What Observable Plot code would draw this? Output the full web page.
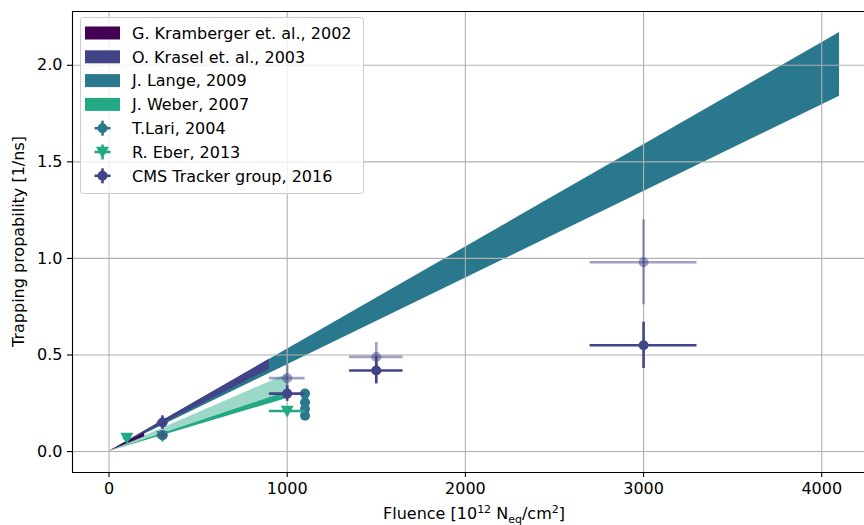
<!DOCTYPE html>
<html><head><meta charset="utf-8">
<script src="https://cdn.jsdelivr.net/npm/d3@7"></script>
<script src="https://cdn.jsdelivr.net/npm/@observablehq/plot@0.6"></script>
<style>body{margin:0;background:#fff}svg{display:block}</style>
</head><body><div id="chart"></div>
<script>
// ---- data ----
const xTicks = [0, 1000, 2000, 3000, 4000];
const yTicks = [0, 0.5, 1.0, 1.5, 2.0];
const xDomain = [-205, 4240];
const yDomain = [-0.1085, 2.2785];

// bands (fluence, lower, upper)
const langeX = [0, 4100], langeLo = [0, 1.84], langeHi = [0, 2.17];
const kraselX = [0, 900], kraselLo = [0, 0.425], kraselHi = [0, 0.478];
const krambX = [0, 200], krambLo = [0, 0.075], krambHi = [0, 0.097];
const weberX = [0, 1000], weberLo = [0, 0.275], weberHi = [0, 0.31];
const weberLightX = [0, 1000], weberLightLo = [0, 0.31], weberLightHi = [0, 0.40];

// point series
const lariX = [300, 1100, 1100, 1100, 1100];
const lariY = [0.085, 0.30, 0.255, 0.22, 0.185];
const lariXerr = [0, 0, 0, 0, 0];
const lariYerr = [0.012, 0.012, 0.012, 0.012, 0.012];

const eberX = [100, 300, 1000];
const eberY = [0.07, 0.08, 0.21];
const eberXerr = [20, 30, 100];
const eberYerr = [0.01, 0.015, 0.01];

const cmsX = [300, 1000, 1500, 3000];
const cmsY = [0.15, 0.30, 0.42, 0.55];
const cmsXerr = [30, 100, 150, 300];
const cmsYerr = [0.035, 0.04, 0.07, 0.12];

const cmsLightX = [300, 1000, 1500, 3000];
const cmsLightY = [0.085, 0.38, 0.49, 0.98];
const cmsLightXerr = [30, 100, 150, 300];
const cmsLightYerr = [0.02, 0.07, 0.075, 0.22];

const legendBands = [
  {label: "G. Kramberger et. al., 2002", color: "#440154"},
  {label: "O. Krasel et. al., 2003", color: "#414487"},
  {label: "J. Lange, 2009", color: "#2a788e"},
  {label: "J. Weber, 2007", color: "#22a884"}
];
const legendPoints = [
  {label: "T.Lari, 2004", color: "#2a788e", sym: "circle"},
  {label: "R. Eber, 2013", color: "#22a884", sym: "tri"},
  {label: "CMS Tracker group, 2016", color: "#414487", sym: "circle"}
];

// ---- helpers ----
const band = (xs, lo, hi) => xs.map((x, i) => ({x, lo: lo[i], hi: hi[i]}));
const pts = (xs, ys, xe, ye) => xs.map((x, i) => ({x, y: ys[i], xe: xe[i], ye: ye[i]}));
const triDown = {
  draw(ctx, size) {
    const s = Math.sqrt(size / Math.PI);
    ctx.moveTo(-s, -s * 0.8);
    ctx.lineTo(s, -s * 0.8);
    ctx.lineTo(0, s);
    ctx.closePath();
  }
};
function errMarks(data, color, opacity, symbol) {
  return [
    Plot.ruleY(data.filter(d => d.xe > 0), {y: "y", x1: d => d.x - d.xe, x2: d => d.x + d.xe, stroke: color, strokeWidth: 2.6, strokeOpacity: opacity}),
    Plot.ruleX(data.filter(d => d.ye > 0), {x: "x", y1: d => d.y - d.ye, y2: d => d.y + d.ye, stroke: color, strokeWidth: 2.6, strokeOpacity: opacity}),
    Plot.dot(data, {x: "x", y: "y", r: symbol === triDown ? 6.5 : 5, symbol, fill: color, fillOpacity: opacity, stroke: "none"})
  ];
}

const grid = "#b0b0b0";
const chart = Plot.plot({
  width: 864, height: 525,
  marginLeft: 72, marginRight: 0, marginTop: 11, marginBottom: 53,
  x: {domain: xDomain},
  y: {domain: yDomain},
  style: {fontFamily: "DejaVu Sans", fontSize: "16px", color: "#000", background: "#fff"},
  marks: [
    Plot.areaY(band(langeX, langeLo, langeHi), {x: "x", y1: "lo", y2: "hi", fill: "#2a788e"}),
    Plot.areaY(band(kraselX, kraselLo, kraselHi), {x: "x", y1: "lo", y2: "hi", fill: "#414487"}),
    Plot.areaY(band(krambX, krambLo, krambHi), {x: "x", y1: "lo", y2: "hi", fill: "#440154"}),
    Plot.areaY(band(weberX, weberLo, weberHi), {x: "x", y1: "lo", y2: "hi", fill: "#22a884"}),
    Plot.areaY(band(weberLightX, weberLightLo, weberLightHi), {x: "x", y1: "lo", y2: "hi", fill: "#22a884", fillOpacity: 0.45}),
    Plot.ruleX(xTicks, {stroke: grid, strokeWidth: 1.1}),
    Plot.ruleY(yTicks, {stroke: grid, strokeWidth: 1.1}),
    ...errMarks(pts(lariX, lariY, lariXerr, lariYerr), "#2a788e", 1, "circle"),
    ...errMarks(pts(eberX, eberY, eberXerr, eberYerr), "#22a884", 1, triDown),
    ...errMarks(pts(cmsLightX, cmsLightY, cmsLightXerr, cmsLightYerr), "#414487", 0.5, "circle"),
    ...errMarks(pts(cmsX, cmsY, cmsXerr, cmsYerr), "#414487", 1, "circle"),
    Plot.ruleX([xDomain[0]], {stroke: "#000", strokeWidth: 1.1}),
    Plot.ruleY([yDomain[0], yDomain[1]], {stroke: "#000", strokeWidth: 1.1}),
    Plot.axisX(xTicks, {tickSize: 5, tickPadding: 5, fontSize: 16, stroke: "#000", strokeWidth: 1.1, tickFormat: d3.format("d"), label: null}),
    Plot.axisY(yTicks, {tickSize: 5, tickPadding: 5, fontSize: 16, stroke: "#000", strokeWidth: 1.1, tickFormat: d3.format(".1f"), label: null})
  ]
});
document.getElementById("chart").appendChild(chart);

// ---- axis titles and legend ----
const svg = d3.select(chart);
const xs = chart.scale("x"), ys = chart.scale("y");
const cx = (xs.apply(xDomain[0]) + 876) / 2;
const xl = svg.append("text").attr("x", cx).attr("y", 519).attr("text-anchor", "middle")
  .attr("font-family", "DejaVu Sans").attr("font-size", 16).attr("fill", "#000");
xl.append("tspan").text("Fluence [10");
xl.append("tspan").attr("dy", -6).attr("font-size", 11).text("12");
xl.append("tspan").attr("dy", 6).text(" N");
xl.append("tspan").attr("dy", 4).attr("font-size", 11).text("eq");
xl.append("tspan").attr("dy", -4).text("/cm");
xl.append("tspan").attr("dy", -6).attr("font-size", 11).text("2");
xl.append("tspan").attr("dy", 6).text("]");

const cy = (ys.apply(yDomain[0]) + ys.apply(yDomain[1])) / 2;
svg.append("text").attr("transform", `translate(24,${cy}) rotate(-90)`).attr("text-anchor", "middle")
  .attr("font-family", "DejaVu Sans").attr("font-size", 16).attr("fill", "#000")
  .text("Trapping propability [1/ns]");

const lg = svg.append("g").attr("font-family", "DejaVu Sans").attr("font-size", 16).attr("text-anchor", "start");
lg.append("rect").attr("x", 80.5).attr("y", 17.5).attr("width", 283).attr("height", 176).attr("rx", 3)
  .attr("fill", "#fff").attr("fill-opacity", 0.8).attr("stroke", "#cccccc");
const rowY = i => 33 + i * 23.8;
legendBands.forEach((d, i) => {
  lg.append("rect").attr("x", 85).attr("y", rowY(i) - 6.5).attr("width", 35).attr("height", 13).attr("fill", d.color);
  lg.append("text").attr("x", 132).attr("y", rowY(i)).attr("dy", "0.36em").text(d.label);
});
legendPoints.forEach((d, j) => {
  const i = j + 4, y = rowY(i), x = 102.5;
  lg.append("line").attr("x1", x - 8).attr("x2", x + 8).attr("y1", y).attr("y2", y).attr("stroke", d.color).attr("stroke-width", 2.6);
  lg.append("line").attr("x1", x).attr("x2", x).attr("y1", y - 7.5).attr("y2", y + 7.5).attr("stroke", d.color).attr("stroke-width", 2.6);
  if (d.sym === "circle") lg.append("circle").attr("cx", x).attr("cy", y).attr("r", 5).attr("fill", d.color);
  else lg.append("path").attr("transform", `translate(${x},${y})`).attr("d", d3.symbol(triDown, Math.PI * 6.5 * 6.5)()).attr("fill", d.color);
  lg.append("text").attr("x", 132).attr("y", y).attr("dy", "0.36em").text(d.label);
});
</script></body></html>
